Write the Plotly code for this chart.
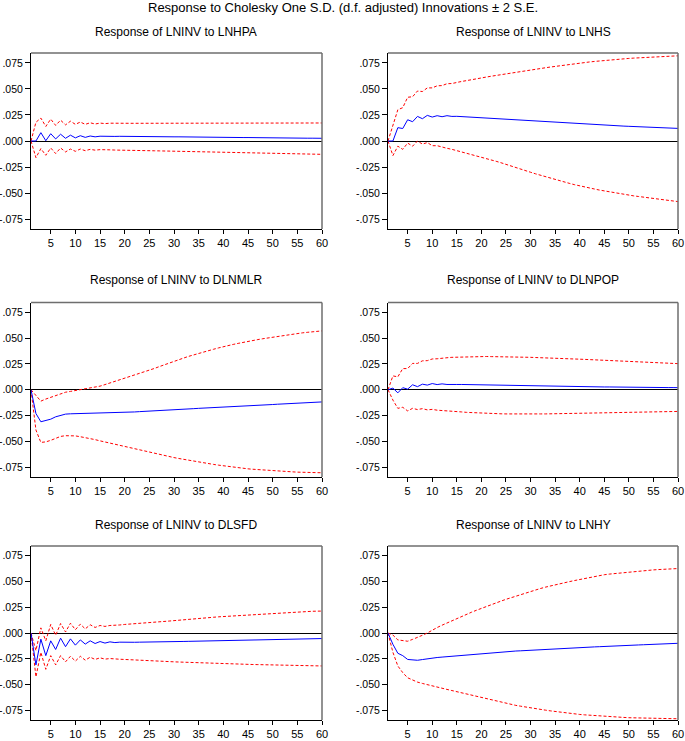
import plotly.graph_objects as go

periods = list(range(1, 61))

titles = ["Response of LNINV to LNHPA", "Response of LNINV to LNHS",
          "Response of LNINV to DLNMLR", "Response of LNINV to DLNPOP",
          "Response of LNINV to DLSFD", "Response of LNINV to LNHY"]

y_tickvals = [0.075, 0.050, 0.025, 0.0, -0.025, -0.050, -0.075]
y_ticktext = [".075", ".050", ".025", ".000", "-.025", "-.050", "-.075"]
x_tickvals = [5, 10, 15, 20, 25, 30, 35, 40, 45, 50, 55, 60]

# ---- LNHPA ----
lnhpa_resp = [0.0000, 0.0000, 0.0080, 0.0003, 0.0070, 0.0020, 0.0065, 0.0026, 0.0056, 0.0030,
              0.0051, 0.0035, 0.0048, 0.0040, 0.0046, 0.0043, 0.0045, 0.0044, 0.0045, 0.0044,
              0.0044, 0.0044, 0.0043, 0.0043, 0.0043, 0.0042, 0.0042, 0.0041, 0.0041, 0.0040,
              0.0040, 0.0039, 0.0039, 0.0038, 0.0038, 0.0037, 0.0037, 0.0036, 0.0036, 0.0035,
              0.0035, 0.0034, 0.0034, 0.0033, 0.0033, 0.0032, 0.0032, 0.0031, 0.0031, 0.0030,
              0.0030, 0.0029, 0.0029, 0.0029, 0.0028, 0.0028, 0.0027, 0.0027, 0.0027, 0.0026]
lnhpa_up = [0.0000, 0.0180, 0.0220, 0.0140, 0.0210, 0.0150, 0.0200, 0.0155, 0.0190, 0.0160,
            0.0182, 0.0160, 0.0175, 0.0163, 0.0172, 0.0167, 0.0171, 0.0169, 0.0170, 0.0170,
            0.0170, 0.0170, 0.0170, 0.0170, 0.0170, 0.0170, 0.0170, 0.0170, 0.0170, 0.0170,
            0.0171, 0.0171, 0.0171, 0.0171, 0.0171, 0.0171, 0.0171, 0.0171, 0.0171, 0.0171,
            0.0172, 0.0172, 0.0172, 0.0172, 0.0172, 0.0172, 0.0172, 0.0172, 0.0172, 0.0172,
            0.0173, 0.0173, 0.0173, 0.0173, 0.0173, 0.0173, 0.0173, 0.0173, 0.0173, 0.0173]
lnhpa_lo = [0.0000, -0.0160, -0.0073, -0.0137, -0.0067, -0.0120, -0.0067, -0.0105, -0.0077, -0.0099,
            -0.0077, -0.0093, -0.0080, -0.0088, -0.0083, -0.0087, -0.0085, -0.0087, -0.0087, -0.0088,
            -0.0089, -0.0090, -0.0091, -0.0092, -0.0093, -0.0094, -0.0095, -0.0096, -0.0097, -0.0098,
            -0.0099, -0.0100, -0.0101, -0.0102, -0.0103, -0.0104, -0.0105, -0.0106, -0.0107, -0.0108,
            -0.0109, -0.0110, -0.0111, -0.0112, -0.0113, -0.0114, -0.0115, -0.0116, -0.0117, -0.0118,
            -0.0119, -0.0120, -0.0121, -0.0122, -0.0123, -0.0124, -0.0125, -0.0126, -0.0127, -0.0128]

# ---- LNHS ----
lnhs_resp = [0.0000, 0.0000, 0.0128, 0.0120, 0.0204, 0.0185, 0.0236, 0.0214, 0.0246, 0.0230,
             0.0243, 0.0233, 0.0243, 0.0236, 0.0237, 0.0234, 0.0232, 0.0229, 0.0226, 0.0223,
             0.0220, 0.0217, 0.0214, 0.0211, 0.0208, 0.0205, 0.0203, 0.0200, 0.0198, 0.0195,
             0.0192, 0.0190, 0.0187, 0.0185, 0.0182, 0.0180, 0.0177, 0.0175, 0.0172, 0.0169,
             0.0166, 0.0163, 0.0160, 0.0157, 0.0154, 0.0151, 0.0148, 0.0146, 0.0143, 0.0141,
             0.0139, 0.0137, 0.0135, 0.0133, 0.0131, 0.0129, 0.0127, 0.0125, 0.0123, 0.0121]
lnhs_up = [0.0000, 0.0140, 0.0300, 0.0320, 0.0420, 0.0425, 0.0480, 0.0475, 0.0510, 0.0510,
           0.0530, 0.0532, 0.0550, 0.0552, 0.0565, 0.0572, 0.0580, 0.0590, 0.0598, 0.0606,
           0.0614, 0.0622, 0.0630, 0.0638, 0.0646, 0.0654, 0.0661, 0.0668, 0.0675, 0.0682,
           0.0689, 0.0696, 0.0703, 0.0710, 0.0717, 0.0724, 0.0731, 0.0737, 0.0743, 0.0749,
           0.0754, 0.0759, 0.0764, 0.0769, 0.0773, 0.0777, 0.0781, 0.0785, 0.0789, 0.0793,
           0.0796, 0.0799, 0.0802, 0.0805, 0.0808, 0.0810, 0.0812, 0.0814, 0.0816, 0.0818]
lnhs_lo = [0.0000, -0.0140, -0.0050, -0.0080, -0.0020, -0.0050, 0.0000, -0.0030, -0.0015, -0.0045,
           -0.0045, -0.0060, -0.0070, -0.0080, -0.0092, -0.0104, -0.0116, -0.0128, -0.0140, -0.0153,
           -0.0167, -0.0181, -0.0195, -0.0209, -0.0223, -0.0238, -0.0254, -0.0269, -0.0285, -0.0300,
           -0.0315, -0.0329, -0.0344, -0.0358, -0.0372, -0.0384, -0.0396, -0.0408, -0.0420, -0.0432,
           -0.0442, -0.0452, -0.0461, -0.0471, -0.0480, -0.0488, -0.0496, -0.0504, -0.0512, -0.0520,
           -0.0527, -0.0533, -0.0540, -0.0546, -0.0552, -0.0558, -0.0564, -0.0570, -0.0576, -0.0582]

# ---- DLNMLR ----
dlnmlr_resp = [0.0000, -0.0230, -0.0310, -0.0300, -0.0285, -0.0262, -0.0248, -0.0236, -0.0233, -0.0232,
               -0.0232, -0.0231, -0.0230, -0.0229, -0.0228, -0.0227, -0.0226, -0.0224, -0.0222, -0.0220,
               -0.0217, -0.0215, -0.0212, -0.0210, -0.0207, -0.0205, -0.0202, -0.0200, -0.0197, -0.0195,
               -0.0192, -0.0189, -0.0186, -0.0183, -0.0180, -0.0178, -0.0175, -0.0173, -0.0170, -0.0168,
               -0.0165, -0.0163, -0.0160, -0.0158, -0.0155, -0.0153, -0.0150, -0.0148, -0.0145, -0.0143,
               -0.0140, -0.0138, -0.0135, -0.0133, -0.0130, -0.0128, -0.0125, -0.0123, -0.0120, -0.0118]
dlnmlr_up = [0.0000, -0.0060, -0.0110, -0.0090, -0.0073, -0.0052, -0.0036, -0.0024, -0.0016, -0.0008,
             0.0000, 0.0008, 0.0016, 0.0025, 0.0035, 0.0050, 0.0065, 0.0080, 0.0095, 0.0110,
             0.0126, 0.0141, 0.0157, 0.0172, 0.0188, 0.0206, 0.0224, 0.0242, 0.0260, 0.0278,
             0.0293, 0.0308, 0.0324, 0.0339, 0.0354, 0.0367, 0.0380, 0.0392, 0.0405, 0.0418,
             0.0428, 0.0439, 0.0449, 0.0460, 0.0470, 0.0478, 0.0486, 0.0494, 0.0502, 0.0510,
             0.0517, 0.0524, 0.0532, 0.0539, 0.0546, 0.0551, 0.0556, 0.0560, 0.0565, 0.0570]
dlnmlr_lo = [0.0000, -0.0390, -0.0510, -0.0505, -0.0490, -0.0468, -0.0452, -0.0445, -0.0444, -0.0447,
             -0.0455, -0.0463, -0.0472, -0.0483, -0.0495, -0.0506, -0.0518, -0.0529, -0.0541, -0.0552,
             -0.0563, -0.0574, -0.0584, -0.0595, -0.0606, -0.0616, -0.0626, -0.0637, -0.0647, -0.0657,
             -0.0666, -0.0675, -0.0684, -0.0693, -0.0702, -0.0709, -0.0716, -0.0723, -0.0730, -0.0737,
             -0.0743, -0.0749, -0.0754, -0.0760, -0.0766, -0.0770, -0.0774, -0.0777, -0.0781, -0.0785,
             -0.0788, -0.0790, -0.0793, -0.0795, -0.0798, -0.0799, -0.0800, -0.0802, -0.0803, -0.0804]

# ---- DLNPOP ----
dlnpop_resp = [0.0000, 0.0016, -0.0030, 0.0020, 0.0006, 0.0048, 0.0030, 0.0054, 0.0045, 0.0060,
               0.0050, 0.0057, 0.0051, 0.0054, 0.0051, 0.0051, 0.0050, 0.0050, 0.0049, 0.0048,
               0.0047, 0.0046, 0.0045, 0.0044, 0.0043, 0.0042, 0.0041, 0.0040, 0.0039, 0.0038,
               0.0037, 0.0036, 0.0036, 0.0035, 0.0034, 0.0033, 0.0033, 0.0032, 0.0031, 0.0030,
               0.0030, 0.0029, 0.0029, 0.0028, 0.0027, 0.0027, 0.0026, 0.0026, 0.0025, 0.0025,
               0.0024, 0.0024, 0.0023, 0.0023, 0.0022, 0.0022, 0.0021, 0.0021, 0.0021, 0.0020]
dlnpop_up = [0.0000, 0.0134, 0.0125, 0.0205, 0.0205, 0.0255, 0.0255, 0.0280, 0.0282, 0.0298,
             0.0300, 0.0308, 0.0310, 0.0314, 0.0316, 0.0318, 0.0320, 0.0321, 0.0321, 0.0322,
             0.0322, 0.0321, 0.0321, 0.0320, 0.0319, 0.0318, 0.0317, 0.0316, 0.0315, 0.0314,
             0.0312, 0.0311, 0.0309, 0.0308, 0.0306, 0.0304, 0.0302, 0.0300, 0.0298, 0.0296,
             0.0294, 0.0292, 0.0290, 0.0288, 0.0286, 0.0284, 0.0282, 0.0280, 0.0278, 0.0276,
             0.0274, 0.0272, 0.0270, 0.0268, 0.0266, 0.0264, 0.0262, 0.0259, 0.0256, 0.0253]
dlnpop_lo = [0.0000, -0.0100, -0.0180, -0.0170, -0.0205, -0.0180, -0.0192, -0.0183, -0.0195, -0.0190,
             -0.0198, -0.0200, -0.0205, -0.0208, -0.0212, -0.0215, -0.0219, -0.0222, -0.0225, -0.0227,
             -0.0229, -0.0231, -0.0232, -0.0233, -0.0234, -0.0235, -0.0235, -0.0235, -0.0235, -0.0235,
             -0.0235, -0.0234, -0.0234, -0.0233, -0.0233, -0.0232, -0.0232, -0.0231, -0.0231, -0.0230,
             -0.0229, -0.0228, -0.0227, -0.0226, -0.0225, -0.0224, -0.0223, -0.0222, -0.0221, -0.0220,
             -0.0219, -0.0218, -0.0217, -0.0216, -0.0215, -0.0214, -0.0213, -0.0212, -0.0211, -0.0210]

# ---- DLSFD ----
dlsfd_resp = [0.0000, -0.0310, -0.0060, -0.0220, -0.0076, -0.0160, -0.0050, -0.0133, -0.0057, -0.0118,
              -0.0067, -0.0108, -0.0076, -0.0102, -0.0083, -0.0098, -0.0086, -0.0093, -0.0089, -0.0091,
              -0.0090, -0.0090, -0.0089, -0.0089, -0.0088, -0.0087, -0.0087, -0.0086, -0.0085, -0.0084,
              -0.0083, -0.0082, -0.0081, -0.0080, -0.0079, -0.0078, -0.0077, -0.0076, -0.0075, -0.0074,
              -0.0073, -0.0072, -0.0071, -0.0070, -0.0069, -0.0068, -0.0067, -0.0066, -0.0065, -0.0064,
              -0.0063, -0.0062, -0.0061, -0.0060, -0.0059, -0.0058, -0.0057, -0.0056, -0.0055, -0.0054]
dlsfd_up = [0.0000, -0.0170, 0.0050, -0.0076, 0.0083, -0.0022, 0.0092, 0.0010, 0.0095, 0.0032,
            0.0086, 0.0040, 0.0080, 0.0054, 0.0073, 0.0064, 0.0073, 0.0072, 0.0078, 0.0083,
            0.0086, 0.0089, 0.0092, 0.0095, 0.0099, 0.0103, 0.0107, 0.0111, 0.0116, 0.0120,
            0.0125, 0.0129, 0.0134, 0.0138, 0.0143, 0.0146, 0.0150, 0.0153, 0.0157, 0.0160,
            0.0164, 0.0167, 0.0171, 0.0174, 0.0178, 0.0181, 0.0184, 0.0188, 0.0191, 0.0194,
            0.0197, 0.0199, 0.0202, 0.0204, 0.0207, 0.0208, 0.0210, 0.0211, 0.0212, 0.0213]
dlsfd_lo = [0.0000, -0.0426, -0.0188, -0.0353, -0.0220, -0.0310, -0.0220, -0.0280, -0.0226, -0.0273,
            -0.0226, -0.0264, -0.0235, -0.0257, -0.0241, -0.0254, -0.0248, -0.0254, -0.0255, -0.0257,
            -0.0260, -0.0262, -0.0265, -0.0267, -0.0270, -0.0272, -0.0274, -0.0276, -0.0278, -0.0280,
            -0.0282, -0.0284, -0.0286, -0.0288, -0.0290, -0.0292, -0.0294, -0.0296, -0.0298, -0.0300,
            -0.0301, -0.0302, -0.0303, -0.0304, -0.0305, -0.0306, -0.0307, -0.0308, -0.0309, -0.0310,
            -0.0311, -0.0312, -0.0313, -0.0314, -0.0315, -0.0316, -0.0317, -0.0318, -0.0319, -0.0320]

# ---- LNHY ----
lnhy_resp = [0.0000, -0.0110, -0.0197, -0.0220, -0.0257, -0.0258, -0.0265, -0.0258, -0.0250, -0.0242,
             -0.0238, -0.0234, -0.0230, -0.0226, -0.0222, -0.0217, -0.0212, -0.0207, -0.0202, -0.0197,
             -0.0194, -0.0190, -0.0187, -0.0183, -0.0180, -0.0178, -0.0175, -0.0173, -0.0170, -0.0168,
             -0.0166, -0.0163, -0.0161, -0.0158, -0.0156, -0.0153, -0.0151, -0.0148, -0.0146, -0.0143,
             -0.0140, -0.0138, -0.0135, -0.0133, -0.0130, -0.0128, -0.0126, -0.0124, -0.0122, -0.0120,
             -0.0118, -0.0116, -0.0114, -0.0112, -0.0110, -0.0108, -0.0106, -0.0104, -0.0102, -0.0100]
lnhy_up = [0.0000, -0.0020, -0.0067, -0.0073, -0.0080, -0.0062, -0.0045, -0.0022, 0.0000, 0.0029,
           0.0053, 0.0076, 0.0098, 0.0121, 0.0143, 0.0163, 0.0182, 0.0202, 0.0221, 0.0240,
           0.0257, 0.0275, 0.0292, 0.0310, 0.0327, 0.0343, 0.0359, 0.0375, 0.0391, 0.0407,
           0.0420, 0.0432, 0.0445, 0.0457, 0.0470, 0.0480, 0.0490, 0.0500, 0.0510, 0.0520,
           0.0529, 0.0538, 0.0548, 0.0557, 0.0566, 0.0572, 0.0577, 0.0583, 0.0588, 0.0594,
           0.0598, 0.0602, 0.0605, 0.0609, 0.0613, 0.0616, 0.0618, 0.0621, 0.0623, 0.0626]
lnhy_lo = [0.0000, -0.0188, -0.0320, -0.0385, -0.0435, -0.0460, -0.0477, -0.0490, -0.0503, -0.0515,
           -0.0526, -0.0537, -0.0548, -0.0559, -0.0570, -0.0581, -0.0593, -0.0604, -0.0615, -0.0626,
           -0.0638, -0.0650, -0.0662, -0.0674, -0.0686, -0.0694, -0.0703, -0.0711, -0.0720, -0.0728,
           -0.0735, -0.0742, -0.0749, -0.0756, -0.0763, -0.0769, -0.0774, -0.0780, -0.0785, -0.0791,
           -0.0795, -0.0799, -0.0802, -0.0806, -0.0810, -0.0813, -0.0815, -0.0818, -0.0820, -0.0823,
           -0.0824, -0.0826, -0.0827, -0.0829, -0.0830, -0.0831, -0.0831, -0.0832, -0.0832, -0.0833]

panels = [
    (lnhpa_resp, lnhpa_up, lnhpa_lo),
    (lnhs_resp, lnhs_up, lnhs_lo),
    (dlnmlr_resp, dlnmlr_up, dlnmlr_lo),
    (dlnpop_resp, dlnpop_up, dlnpop_lo),
    (dlsfd_resp, dlsfd_up, dlsfd_lo),
    (lnhy_resp, lnhy_up, lnhy_lo),
]

W, H = 685, 741
col_px = [(31, 322), (388, 678)]
row_px = [(53, 229), (302.5, 477), (546, 720)]
title_px = [32, 280, 525]

FONT = "Liberation Sans, Arial, sans-serif"

fig = go.Figure()
layout = dict(
    width=W, height=H,
    margin=dict(l=0, r=0, t=0, b=0),
    paper_bgcolor="white", plot_bgcolor="white",
    showlegend=False,
    font=dict(family=FONT, color="black"),
)
annotations = [dict(text="Response to Cholesky One S.D. (d.f. adjusted) Innovations \u00b1 2 S.E.",
                    x=0.5, y=1 - 8 / H, xref="paper", yref="paper",
                    xanchor="center", yanchor="middle", showarrow=False,
                    font=dict(size=13, family=FONT, color="black"))]
shapes = []

for i, (resp, up, lo) in enumerate(panels):
    r, c = divmod(i, 2)
    n = i + 1
    xa = "x" if n == 1 else f"x{n}"
    ya = "y" if n == 1 else f"y{n}"
    x0, x1 = col_px[c]
    t0, b0 = row_px[r]
    layout["xaxis" if n == 1 else f"xaxis{n}"] = dict(
        domain=[x0 / W, x1 / W], anchor=ya, range=[1, 60],
        tickvals=x_tickvals, ticks="outside", ticklen=4, tickcolor="black", tickwidth=1,
        showgrid=False, zeroline=False, showline=True, linecolor="black", linewidth=1,
        ticklabeloverflow="allow",
        tickfont=dict(size=11, family=FONT, color="black"), automargin=False)
    layout["yaxis" if n == 1 else f"yaxis{n}"] = dict(
        domain=[1 - b0 / H, 1 - t0 / H], anchor=xa, range=[-0.0845, 0.0845],
        tickvals=y_tickvals, ticktext=y_ticktext, ticks="outside", ticklen=5, tickcolor="black",
        tickwidth=1, showgrid=False, zeroline=True, zerolinecolor="black", zerolinewidth=1,
        showline=True, linecolor="black", linewidth=1, ticklabeloverflow="allow",
        tickfont=dict(size=10.5, family=FONT, color="black"), automargin=False)
    # gray top and right frame
    shapes.append(dict(type="line", xref=f"{xa} domain", yref=f"{ya} domain",
                       x0=0, x1=1, y0=1, y1=1, line=dict(color="#6e6e6e", width=1.5)))
    shapes.append(dict(type="line", xref=f"{xa} domain", yref=f"{ya} domain",
                       x0=1, x1=1, y0=0, y1=1, line=dict(color="#6e6e6e", width=1.5)))
    fig.add_trace(go.Scatter(x=periods, y=up, xaxis=xa, yaxis=ya, mode="lines",
                             line=dict(color="#FF0000", width=1, dash="3px,2px")))
    fig.add_trace(go.Scatter(x=periods, y=lo, xaxis=xa, yaxis=ya, mode="lines",
                             line=dict(color="#FF0000", width=1, dash="3px,2px")))
    fig.add_trace(go.Scatter(x=periods, y=resp, xaxis=xa, yaxis=ya, mode="lines",
                             line=dict(color="#0000FF", width=1)))
    annotations.append(dict(text=titles[i], x=(x0 + x1) / 2 / W, y=1 - title_px[r] / H,
                            xref="paper", yref="paper", xanchor="center", yanchor="middle",
                            showarrow=False, font=dict(size=12, family=FONT, color="black")))

layout["annotations"] = annotations
layout["shapes"] = shapes
fig.update_layout(**layout)
fig.write_html("out.html", config={"displayModeBar": False},
               post_script="document.body.style.margin='0';document.body.style.overflow='hidden';")
